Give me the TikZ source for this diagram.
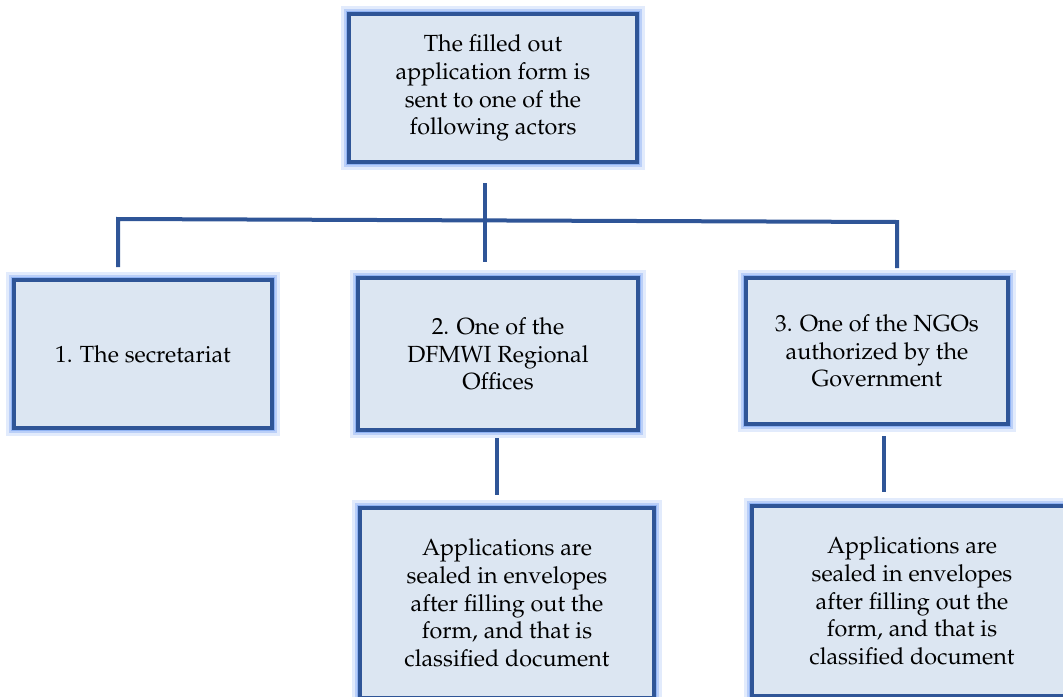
\documentclass[tikz,border=0pt]{standalone}
\usepackage[T1]{fontenc}
\usepackage{mathpazo}
\definecolor{boxfill}{RGB}{220,230,242}
\definecolor{boxline}{RGB}{47,85,151}
\definecolor{glow}{RGB}{110,155,240}
\tikzset{
  box/.style={draw=boxline, line width=2.4pt, fill=boxfill, align=center,
    inner sep=0pt, font=\fontsize{17.5}{20.8}\selectfont,
    preaction={draw=glow, line width=12pt, opacity=0.2},
    preaction={draw=glow, line width=8pt, opacity=0.35},
    preaction={draw=glow, line width=5pt, opacity=0.55}},
  link/.style={draw=boxline, line width=3pt}
}
\begin{document}
\begin{tikzpicture}[x=0.75pt, y=-0.75pt]
\useasboundingbox (0,0) rectangle (1063,696);
\begin{scope}
\clip (0,0) rectangle (1063,696);
\node[box, minimum width=216pt, minimum height=111pt] (top) at (493,88)
  {The filled out\\application form is\\sent to one of the\\following actors};
\node[box, minimum width=193.5pt, minimum height=111pt] (sec) at (143,354)
  {1. The secretariat};
\node[box, minimum width=210pt, minimum height=114pt] (reg) at (498,354)
  {2. One of the\\DFMWI Regional\\Offices};
\node[box, minimum width=196.5pt, minimum height=109.5pt] (ngo) at (877,351)
  {3. One of the NGOs\\authorized by the\\Government};
\node[box, minimum width=220.5pt, minimum height=142.5pt] (sealA) at (507,603)
  {Applications are\\sealed in envelopes\\after filling out the\\form, and that is\\classified document};
\node[box, minimum width=240pt, minimum height=142.5pt] (sealB) at (912,601)
  {Applications are\\sealed in envelopes\\after filling out the\\form, and that is\\classified document};

% connector ends
\coordinate (stemTop) at (485,183);
\coordinate (stemBot) at (485,262);
\coordinate (barL) at (118,219);
\coordinate (barR) at (897,222);
\coordinate (dropL) at (118,267);
\coordinate (dropR) at (897,268);
\coordinate (regA) at (497,438);
\coordinate (regB) at (497,495);
\coordinate (ngoA) at (884,436);
\coordinate (ngoB) at (884,492);

\draw[link] (stemTop) -- (stemBot);
\draw[link] (dropL) -- (barL) -- (barR) -- (dropR);
\draw[link] (regA) -- (regB);
\draw[link] (ngoA) -- (ngoB);
\end{scope}
\end{tikzpicture}
\end{document}
